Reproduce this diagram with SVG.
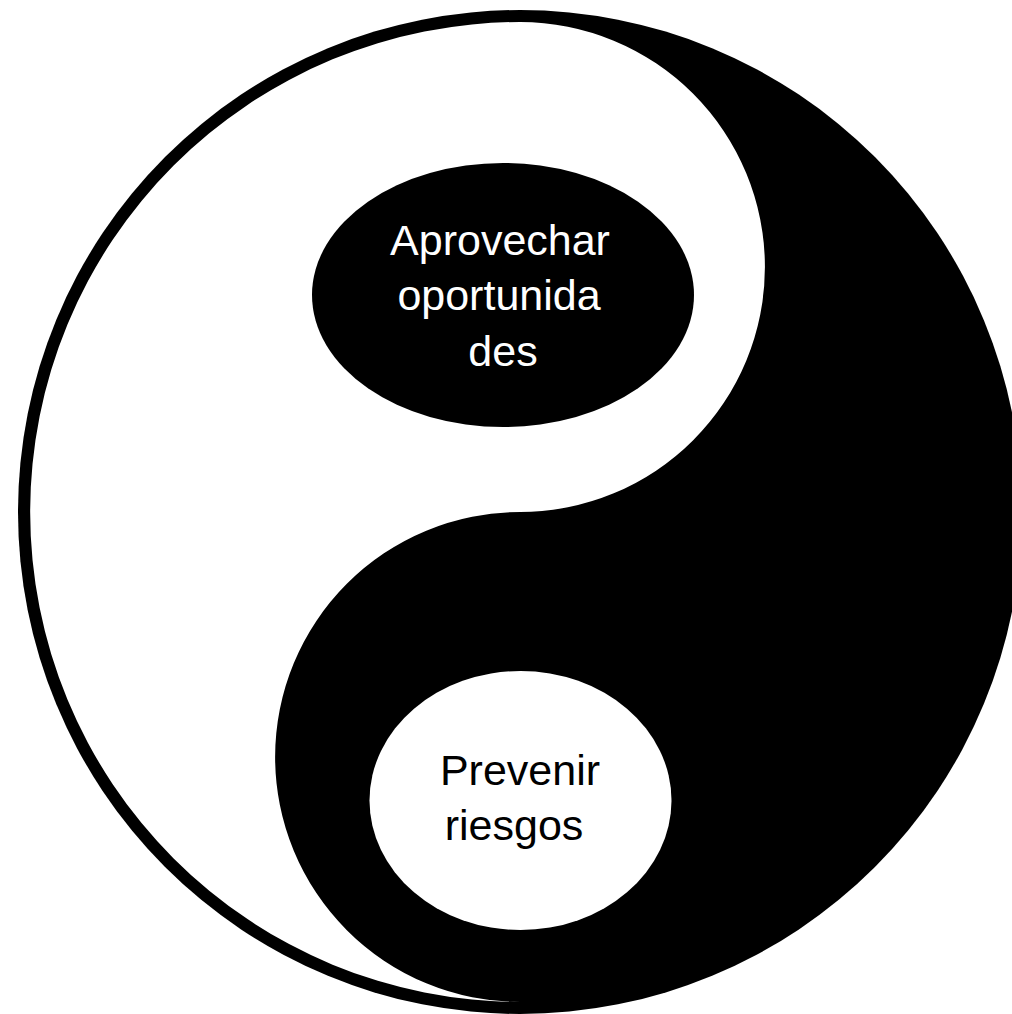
<svg xmlns="http://www.w3.org/2000/svg" width="1012" height="1014" viewBox="0 0 1012 1014">
  <style>
    .lbl { font-family: "Liberation Sans", Arial, sans-serif; font-size: 43px; text-anchor: middle; }
    .on-dark { fill: #ffffff; }
    .on-light { fill: #000000; }
  </style>
  <rect x="0" y="0" width="1012" height="1014" fill="#ffffff"/>
  <g id="yinyang">
    <circle id="outer" cx="520" cy="512" r="502" fill="#000000"/>
    <path id="white-half" d="M 520 22 A 245 245 0 0 1 520 512 A 245 245 0 0 0 520 1002 A 490 490 0 0 1 520 22 Z" fill="#ffffff"/>
  </g>
  <g id="node-oportunidades">
    <ellipse cx="503" cy="295" rx="191" ry="132" fill="#000000"/>
    <text class="lbl on-dark" x="500" y="255">Aprovechar</text>
    <text class="lbl on-dark" x="499" y="310">oportunida</text>
    <text class="lbl on-dark" x="503" y="366">des</text>
  </g>
  <g id="node-riesgos">
    <ellipse cx="520.5" cy="800.5" rx="151" ry="129.5" fill="#ffffff"/>
    <text class="lbl on-light" x="520" y="785">Prevenir</text>
    <text class="lbl on-light" x="514" y="840">riesgos</text>
  </g>
</svg>
